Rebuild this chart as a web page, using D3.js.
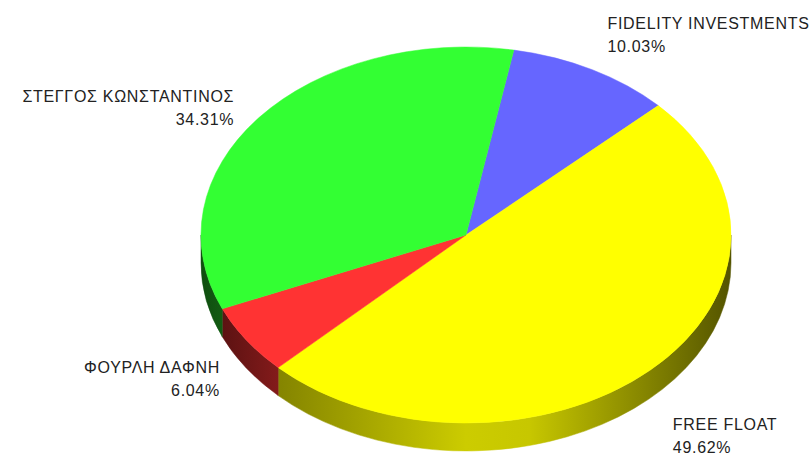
<!DOCTYPE html>
<html>
<head>
<meta charset="utf-8">
<script src="https://cdn.jsdelivr.net/npm/d3@7"></script>
<style>
  body { margin: 0; background: #fff; }
  text { font-family: "Liberation Sans", Arial, sans-serif; font-size: 16px; fill: #222; letter-spacing: 0.7px; }
</style>
</head>
<body>
<div id="chart"></div>
<script>
// data
var names = ["FIDELITY INVESTMENTS", "FREE FLOAT", "ΦΟΥΡΛΗ ΔΑΦΝΗ", "ΣΤΕΓΓΟΣ ΚΩΝΣΤΑΝΤΙΝΟΣ"];
var values = [10.03, 49.62, 6.04, 34.31];
var colors = ["#6666ff", "#ffff00", "#ff3333", "#33ff33"];

var width = 812, height = 455;
var cx = 466, cy = 235, rx = 265, ry = 188, depth = 28;
var startAngle = 10.4 * Math.PI / 180;

var svg = d3.select("#chart")
    .append("svg")
    .attr("width", width)
    .attr("height", height);

var pie = d3.pie()
    .sort(null)
    .startAngle(startAngle)
    .endAngle(startAngle + 2 * Math.PI);

var arcs = pie(values);

// shading of the side wall along x
var defs = svg.append("defs");
colors.forEach(function(c, i) {
    var base = d3.rgb(c);
    var g = defs.append("linearGradient")
        .attr("id", "side" + i)
        .attr("gradientUnits", "userSpaceOnUse")
        .attr("x1", cx - rx).attr("x2", cx + rx)
        .attr("y1", 0).attr("y2", 0);
    [[0, 0.3], [0.15, 0.52], [0.5, 0.8], [0.62, 0.78], [1, 0.33]].forEach(function(s) {
        g.append("stop")
            .attr("offset", s[0])
            .attr("stop-color", d3.rgb(base.r * s[1], base.g * s[1], base.b * s[1]));
    });
});

function px(a) { return cx + rx * Math.sin(a); }
function py(a) { return cy - ry * Math.cos(a); }

// side walls (front half only)
var sides = svg.append("g");
arcs.forEach(function(d, i) {
    var ranges = [[d.startAngle, d.endAngle], [d.startAngle - 2 * Math.PI, d.endAngle - 2 * Math.PI]];
    ranges.forEach(function(r) {
        var a1 = Math.max(r[0], Math.PI / 2), a2 = Math.min(r[1], 3 * Math.PI / 2);
        if (a2 <= a1) return;
        var p = "M" + px(a1) + "," + py(a1) +
            " A" + rx + "," + ry + " 0 0 1 " + px(a2) + "," + py(a2) +
            " L" + px(a2) + "," + (py(a2) + depth) +
            " A" + rx + "," + ry + " 0 0 0 " + px(a1) + "," + (py(a1) + depth) + " Z";
        sides.append("path")
            .attr("d", p)
            .attr("fill", "url(#side" + i + ")")
            .attr("stroke", "url(#side" + i + ")")
            .attr("stroke-width", 0.5);
    });
});

// top face
var arc = d3.arc().innerRadius(0).outerRadius(rx);
svg.append("g")
    .attr("transform", "translate(" + cx + "," + cy + ") scale(1," + (ry / rx) + ")")
    .selectAll("path")
    .data(arcs)
    .enter()
    .append("path")
    .attr("d", arc)
    .attr("fill", function(d, i) { return colors[i]; })
    .attr("stroke", function(d, i) { return colors[i]; })
    .attr("stroke-width", 0.6);

// labels
var labels = svg.append("g");
arcs.forEach(function(d, i) {
    var a = (d.startAngle + d.endAngle) / 2;
    var s = Math.sin(a), c = Math.cos(a);
    var lx = cx + rx * 1.12 * s;
    // labels spread further out vertically away from the middle
    var f = c >= 0 ? 0.86 + 0.44 * Math.abs(c) : 0.35 + 1.24 * Math.abs(c);
    var lc = cy + 6 + (c < 0 ? depth : 0) - ry * f * c;
    var anchor = s >= 0 ? "start" : "end";
    var t = labels.append("text")
        .attr("text-anchor", anchor)
        .attr("x", lx)
        .attr("y", lc - 6);
    t.append("tspan").attr("x", lx).text(names[i]);
    t.append("tspan").attr("x", lx).attr("dy", 23)
        .text(values[i].toFixed(2) + "%");
});
</script>
</body>
</html>
